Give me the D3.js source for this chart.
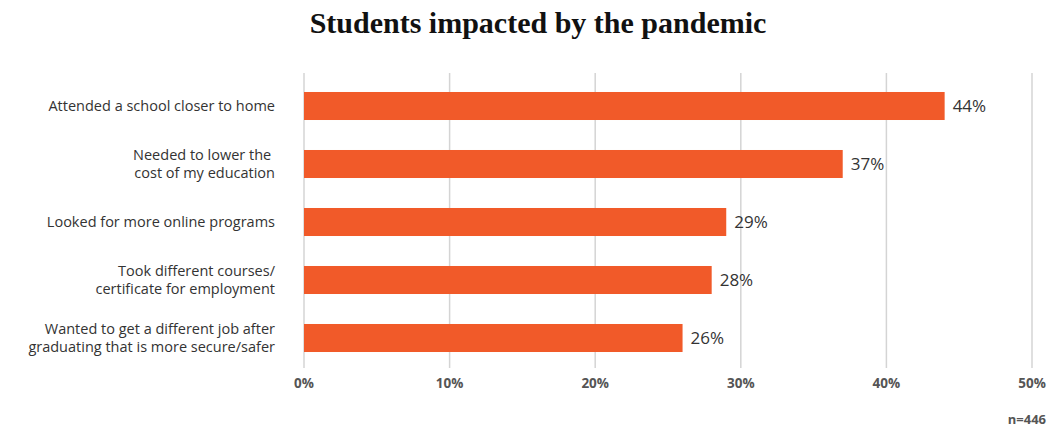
<!DOCTYPE html>
<html lang="en">
<head>
    <meta charset="UTF-8">
    <title>Students impacted by the pandemic</title>
    <style>
        body {
            margin: 0;
            padding: 0;
            background: #fff;
            font-family: "Open Sans", Lato, sans-serif;
        }
        .grid line {
            stroke: #d4d4d4;
            stroke-width: 1.5px;
        }
    </style>
</head>
<body>
    <div id="chart"></div>

    <script src="https://d3js.org/d3.v7.min.js"></script>
    <script>
        const categories = [
            ["Attended a school closer to home"],
            ["Needed to lower the ", "cost of my education"],
            ["Looked for more online programs"],
            ["Took different courses/", "certificate for employment"],
            ["Wanted to get a different job after", "graduating that is more secure/safer"]
        ];
        const values = [44, 37, 29, 28, 26];
        const ticks = [0, 10, 20, 30, 40, 50];

        const width = 1050, height = 427;
        const svg = d3.select("#chart").append("svg")
            .attr("width", width)
            .attr("height", height);

        const x = d3.scaleLinear().domain([0, 50]).range([304, 1032]);
        const y = d3.scaleBand()
            .domain(d3.range(values.length))
            .range([77, 367])
            .paddingInner(0.517)
            .paddingOuter(0.2585);

        svg.append("text")
            .attr("x", 538)
            .attr("y", 33)
            .attr("text-anchor", "middle")
            .attr("font-family", "'Liberation Serif', 'DejaVu Serif', serif")
            .attr("font-weight", "bold")
            .attr("font-size", "30px")
            .attr("fill", "#111")
            .text("Students impacted by the pandemic");

        // grid
        svg.append("g").attr("class", "grid")
            .selectAll("line")
            .data(ticks)
            .enter().append("line")
            .attr("x1", d => x(d))
            .attr("x2", d => x(d))
            .attr("y1", 73)
            .attr("y2", 368);

        svg.append("g")
            .selectAll("text")
            .data(ticks)
            .enter().append("text")
            .attr("x", d => x(d))
            .attr("y", 388)
            .attr("text-anchor", "middle")
            .attr("font-size", "13.5px")
            .attr("font-weight", "bold")
            .attr("fill", "#555")
            .text(d => d + "%");

        svg.append("g")
            .selectAll("rect")
            .data(values)
            .enter().append("rect")
            .attr("x", x(0))
            .attr("y", (d, i) => y(i))
            .attr("width", d => x(d) - x(0))
            .attr("height", y.bandwidth())
            .attr("fill", "#f15a29");

        svg.append("g")
            .selectAll("text")
            .data(values)
            .enter().append("text")
            .attr("x", d => x(d) + 8)
            .attr("y", (d, i) => y(i) + y.bandwidth() / 2)
            .attr("dy", "0.35em")
            .attr("font-size", "17px")
            .attr("fill", "#333")
            .text(d => d + "%");

        const labels = svg.append("g")
            .selectAll("text")
            .data(categories)
            .enter().append("text")
            .attr("text-anchor", "end")
            .attr("font-size", "14.5px")
            .attr("fill", "#333")
            .attr("y", (d, i) => y(i) + y.bandwidth() / 2);

        labels.selectAll("tspan")
            .data(d => d.map((t, j) => ({ t, j, n: d.length })))
            .enter().append("tspan")
            .attr("x", 275)
            .attr("dy", d => d.j === 0 ? (0.35 - (d.n - 1) * 0.6) + "em" : "1.2em")
            .attr("xml:space", "preserve")
            .text(d => d.t);

        svg.append("text")
            .attr("x", 1046)
            .attr("y", 424)
            .attr("text-anchor", "end")
            .attr("font-size", "13px")
            .attr("font-weight", "bold")
            .attr("fill", "#555")
            .text("n=446");
    </script>
</body>
</html>
